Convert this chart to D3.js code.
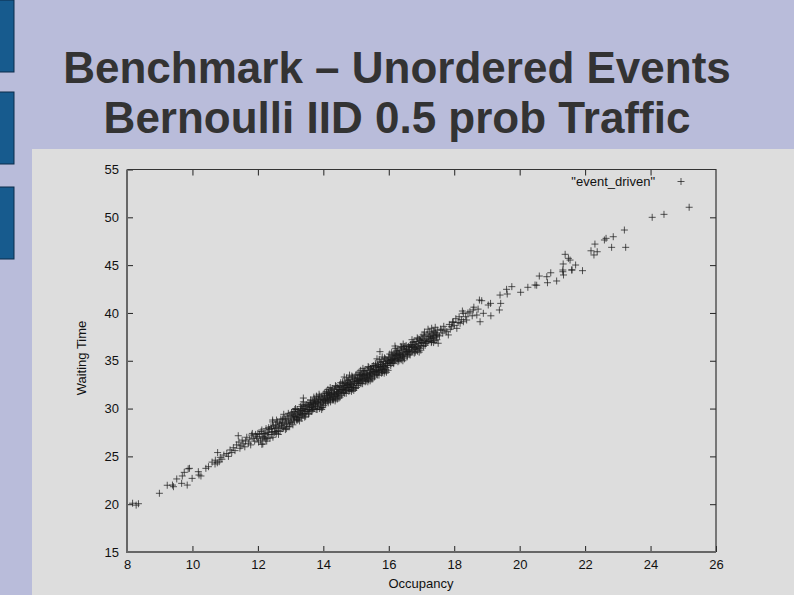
<!DOCTYPE html>
<html><head><meta charset="utf-8">
<script src="https://cdn.jsdelivr.net/npm/d3@7"></script>
<style>html,body{margin:0;padding:0;background:#b9bcda;}svg{display:block;}</style>
</head><body>
<script>
const titleLines = ["Benchmark – Unordered Events", "Bernoulli IID 0.5 prob Traffic"];
const xTicks = [8,10,12,14,16,18,20,22,24,26];
const yTicks = [15,20,25,30,35,40,45,50,55];
const xLabel = "Occupancy";
const yLabel = "Waiting Time";
const seriesName = "\"event_driven\"";

// sparse low end
const lowPoints = [[8.17,20.1],[8.28,19.9],[8.35,20.05],[8.99,21.14],[9.23,21.98],[9.42,21.83],[9.39,22.0],[9.52,22.64],
[9.69,22.95],[9.75,23.33],[9.67,22.18],[9.84,22.0],[9.91,23.75],[9.87,23.7],[9.99,22.7],[10.2,23.05],[10.18,23.4],
[10.26,22.95],[10.41,23.75],[10.49,23.92],[10.6,24.4],[10.69,24.2],[10.7,24.6],[10.76,24.33],[10.77,25.4],[10.82,24.44],
[10.85,24.9],[10.9,24.7],[10.96,25.14],[11.05,25.3],[11.1,25.0],[11.15,25.67],[11.2,25.4],[11.25,25.9],[11.3,25.6],
[11.35,26.2],[11.4,27.16],[11.42,26.5],[11.45,25.85],[11.48,26.1],[11.52,26.7],[11.55,26.3],[11.6,26.0],[11.62,26.6],
[11.66,27.0],[11.71,26.37],[11.75,26.8],[11.78,26.2],[11.81,27.23],[11.83,27.4],[11.86,26.9],[11.9,26.6],[11.93,27.3],
[11.96,27.06],[11.98,26.9],[12.0,27.4],[12.12,26.26],[12.12,27.76],[12.22,27.4],[12.42,27.93],[12.45,28.8]];

// dense band
const bandPoints = [
[12.02,26.5],[12.05,27.3],[12.08,26.7],[12.1,27.6],[12.13,26.9],[12.15,26.3],[12.18,27.4],[12.2,27.0],[12.23,26.8],[12.25,27.9],
[12.28,26.9],[12.3,27.5],[12.32,27.3],[12.35,27.8],[12.37,26.9],[12.4,28.1],[12.42,27.3],[12.44,27.6],[12.46,27.0],[12.48,28.2],
[12.5,27.5],[12.33,28.0],[12.16,27.1],[12.27,26.6],[12.45,28.6],
[12.52,27.9],[12.54,28.3],[12.56,27.4],[12.58,28.0],[12.6,28.6],[12.62,27.7],[12.64,28.1],[12.66,28.4],[12.68,27.6],[12.7,28.9],
[12.72,28.2],[12.74,27.9],[12.76,28.5],[12.78,28.0],[12.8,29.0],[12.82,28.3],[12.84,27.8],[12.86,28.7],[12.88,28.4],[12.9,29.2],
[12.92,28.1],[12.94,28.8],[12.96,28.5],[12.98,29.3],[13.0,28.6],[12.57,28.8],[12.63,27.3],[12.71,28.5],[12.79,29.4],[12.87,27.9],
[12.93,29.5],[12.55,27.6],[12.75,28.9],[12.85,28.9],[12.97,28.1],
[13.02,29.0],[13.04,28.5],[13.06,29.4],[13.08,28.9],[13.1,29.7],[13.12,28.7],[13.14,29.2],[13.16,29.5],[13.18,28.8],[13.2,29.9],
[13.22,29.3],[13.24,28.9],[13.26,29.6],[13.28,29.1],[13.3,30.2],[13.32,29.4],[13.34,29.0],[13.36,29.8],[13.38,29.3],[13.4,30.0],
[13.42,29.5],[13.44,29.9],[13.46,29.2],[13.48,30.4],[13.5,29.7],[13.03,29.6],[13.07,28.3],[13.11,29.2],[13.15,30.0],[13.19,29.1],
[13.23,29.7],[13.27,28.7],[13.31,29.8],[13.35,30.4],[13.39,30.7],[13.43,29.1],[13.47,29.7],[13.09,29.1],[13.13,29.9],[13.21,28.8],
[13.29,29.4],[13.33,30.0],[13.37,29.5],[13.41,30.3],[13.45,30.2],
[13.52,29.9],[13.54,30.3],[13.56,29.5],[13.58,30.1],[13.6,30.6],[13.62,29.8],[13.64,30.2],[13.66,30.8],[13.68,29.9],[13.7,30.4],
[13.72,30.0],[13.74,31.0],[13.76,30.3],[13.78,29.9],[13.8,30.7],[13.82,30.2],[13.84,31.1],[13.86,30.5],[13.88,30.0],[13.9,30.9],
[13.92,30.4],[13.94,31.2],[13.96,30.6],[13.98,30.1],[14.0,30.8],[13.53,30.6],[13.57,29.9],[13.61,30.9],[13.65,29.7],[13.69,30.6],
[13.73,30.8],[13.77,30.7],[13.81,29.9],[13.85,30.9],[13.89,31.3],[13.93,30.1],[13.97,31.0],[13.55,29.4],[13.59,30.4],[13.63,30.5],
[13.67,30.1],[13.71,31.2],[13.75,30.5],[13.79,31.3],[13.83,30.6],[13.87,31.5],[13.91,30.7],[13.95,29.9],[13.99,31.4],[13.39,31.1],
[14.02,30.9],[14.04,31.3],[14.06,30.5],[14.08,31.0],[14.1,31.6],[14.12,30.8],[14.14,31.2],[14.16,31.7],[14.18,30.9],[14.2,31.4],
[14.22,31.0],[14.24,31.9],[14.26,31.3],[14.28,30.9],[14.3,31.7],[14.32,31.2],[14.34,32.0],[14.36,31.5],[14.38,31.0],[14.4,31.8],
[14.42,31.4],[14.44,32.2],[14.46,31.6],[14.48,31.1],[14.5,31.9],[14.03,31.6],[14.07,30.7],[14.11,31.1],[14.15,30.6],[14.19,31.5],
[14.23,31.6],[14.27,32.1],[14.31,30.9],[14.35,31.3],[14.39,32.3],[14.43,31.0],[14.47,32.0],[14.05,30.9],[14.09,31.8],[14.13,31.4],
[14.17,31.1],[14.21,32.2],[14.25,31.5],[14.29,31.1],[14.33,31.6],[14.37,32.4],[14.41,31.5],[14.45,31.3],[14.49,32.4],[14.01,30.3],
[14.22,30.7],[14.36,30.8],[14.44,31.7],[14.14,32.0],
[14.52,31.8],[14.54,32.3],[14.56,31.4],[14.58,32.0],[14.6,32.6],[14.62,31.7],[14.64,32.2],[14.66,32.7],[14.68,31.9],[14.7,32.4],
[14.72,32.0],[14.74,32.9],[14.76,32.2],[14.78,31.8],[14.8,32.7],[14.82,32.3],[14.84,33.0],[14.86,32.5],[14.88,32.0],[14.9,32.8],
[14.92,32.4],[14.94,33.2],[14.96,32.6],[14.98,32.1],[15.0,32.9],[14.53,32.7],[14.57,31.6],[14.61,32.0],[14.65,31.6],[14.69,32.6],
[14.73,32.5],[14.77,33.0],[14.81,31.9],[14.85,32.2],[14.89,33.3],[14.93,31.9],[14.97,33.1],[14.55,32.0],[14.59,32.8],[14.63,32.4],
[14.67,32.1],[14.71,33.2],[14.75,32.5],[14.79,32.2],[14.83,32.6],[14.87,33.4],[14.91,32.2],[14.95,32.8],[14.99,33.5],[14.51,31.2],
[14.7,31.6],[14.86,31.8],[14.64,33.3],[14.8,33.5],
[15.02,32.8],[15.04,33.2],[15.06,32.4],[15.08,33.0],[15.1,33.5],[15.12,32.7],[15.14,33.1],[15.16,33.6],[15.18,32.9],[15.2,33.4],
[15.22,33.0],[15.24,33.9],[15.26,33.2],[15.28,32.8],[15.3,33.7],[15.32,33.3],[15.34,34.0],[15.36,33.5],[15.38,33.0],[15.4,33.8],
[15.42,33.4],[15.44,34.2],[15.46,33.6],[15.48,33.1],[15.5,33.9],[15.03,33.6],[15.07,32.6],[15.11,33.0],[15.15,32.6],[15.19,33.5],
[15.23,33.6],[15.27,34.0],[15.31,32.9],[15.35,33.2],[15.39,34.3],[15.43,32.9],[15.47,34.1],[15.05,32.9],[15.09,33.8],[15.13,33.4],
[15.17,33.1],[15.21,34.2],[15.25,33.5],[15.29,33.1],[15.33,33.6],[15.37,34.4],[15.41,33.5],[15.45,33.3],[15.49,34.4],[15.01,32.2],
[15.2,32.6],[15.36,32.8],[15.44,33.7],[15.14,34.0],
[15.52,33.7],[15.54,34.1],[15.56,33.3],[15.58,33.9],[15.6,34.5],[15.62,33.6],[15.64,34.0],[15.66,34.6],[15.68,33.8],[15.7,34.3],
[15.72,33.9],[15.74,34.8],[15.76,34.1],[15.78,33.7],[15.8,34.6],[15.82,34.2],[15.84,34.9],[15.86,34.4],[15.88,33.9],[15.9,34.7],
[15.92,34.3],[15.94,35.1],[15.96,34.5],[15.98,34.0],[16.0,34.8],[15.53,34.5],[15.57,33.5],[15.61,33.9],[15.65,33.5],[15.69,34.4],
[15.73,35.95],[15.77,34.9],[15.81,33.8],[15.85,34.1],[15.89,35.2],[15.93,33.8],[15.97,35.0],[15.55,33.8],[15.59,34.7],[15.63,34.3],
[15.67,34.0],[15.71,35.1],[15.75,34.4],[15.79,34.0],[15.83,34.5],[15.87,35.3],[15.91,34.1],[15.95,34.7],[15.99,35.4],[15.51,33.1],
[15.7,33.5],[15.86,33.7],[15.64,35.2],[15.8,35.4],
[16.02,34.9],[16.04,35.3],[16.06,34.5],[16.08,35.1],[16.1,35.6],[16.12,34.8],[16.14,35.2],[16.16,35.8],[16.18,35.0],[16.19,36.54],
[16.2,35.5],[16.22,35.1],[16.24,36.0],[16.26,35.3],[16.28,34.9],[16.3,35.8],[16.32,35.4],[16.34,36.1],[16.36,35.6],[16.38,35.1],
[16.4,35.9],[16.42,35.5],[16.44,36.75],[16.44,36.3],[16.46,35.7],[16.48,35.2],[16.5,36.0],[16.03,35.7],[16.07,34.7],[16.11,35.1],
[16.15,34.7],[16.19,35.6],[16.23,35.7],[16.27,36.1],[16.31,35.0],[16.35,35.3],[16.39,36.4],[16.43,35.0],[16.47,36.2],[16.05,35.0],
[16.09,35.9],[16.13,35.5],[16.17,35.2],[16.21,36.3],[16.25,35.6],[16.29,35.2],[16.33,35.7],[16.37,36.5],[16.41,35.6],[16.45,35.4],
[16.49,36.5],
[16.52,35.8],[16.54,36.2],[16.56,35.4],[16.58,36.0],[16.6,36.5],[16.62,35.7],[16.64,36.1],[16.66,36.7],[16.68,35.9],[16.7,36.4],
[16.72,36.0],[16.74,36.9],[16.76,36.2],[16.78,35.8],[16.8,36.7],[16.82,36.3],[16.84,37.0],[16.86,36.5],[16.88,36.0],[16.9,36.8],
[16.92,36.4],[16.94,37.2],[16.96,36.6],[16.98,36.1],[17.0,36.9],[16.53,36.6],[16.57,35.6],[16.61,36.0],[16.65,35.6],[16.69,36.5],
[16.73,36.6],[16.77,37.0],[16.81,35.9],[16.85,36.2],[16.89,37.3],[16.93,35.9],[16.97,37.1],[16.55,35.9],[16.63,36.4],[16.71,37.2],
[16.79,36.4],[16.87,37.4],[16.95,36.3],[16.99,37.5],
[17.02,36.9],[17.04,37.3],[17.06,36.5],[17.08,37.1],[17.1,37.6],[17.12,36.8],[17.14,37.2],[17.17,37.8],[17.19,37.0],[17.21,37.5],
[17.23,37.1],[17.25,38.0],[17.27,37.3],[17.3,36.9],[17.32,37.8],[17.34,37.4],[17.36,38.1],[17.38,37.6],[17.41,37.1],[17.43,37.9],
[17.45,37.5],[17.48,38.2],[17.5,37.7],[17.05,37.7],[17.11,36.6],[17.15,37.0],[17.2,38.3],[17.26,37.5],[17.31,38.4],[17.37,36.9],
[17.42,38.5],[17.47,37.2],[17.09,38.0],[17.29,37.6],[17.39,38.0]];

// sparse high end
const highPoints = [[17.31,37.0],[17.36,37.35],[17.46,37.7],[17.51,36.83],[17.55,37.6],[17.58,38.3],[17.62,38.2],[17.65,37.9],
[17.68,38.6],[17.72,38.2],[17.77,38.04],[17.82,37.7],[17.85,38.8],[17.88,38.3],[17.92,38.56],[17.95,39.0],[17.97,39.08],
[18.0,38.7],[18.05,39.4],[18.08,38.39],[18.12,39.0],[18.15,39.6],[18.18,38.92],[18.22,39.3],[18.25,40.2],[18.28,39.96],
[18.28,39.08],[18.35,39.6],[18.38,39.26],[18.42,40.0],[18.48,40.13],[18.55,39.7],[18.58,40.31],[18.6,40.6],[18.69,39.78],
[18.73,40.4],[18.77,41.35],[18.79,39.08],[18.84,41.28],[18.89,39.96],[19.04,40.83],[19.11,41.0],[19.12,39.7],[19.38,40.31],
[19.42,41.0],[19.4,41.87],[19.6,42.47],[19.62,41.98],[19.76,42.75],[20.03,42.16],[20.25,42.68],[20.47,42.92],[20.52,42.9],
[20.6,43.86],[20.83,43.79],[20.85,43.16],[20.95,44.2],[21.13,43.34],[21.32,44.31],[21.34,43.97],[21.32,44.49],[21.33,45.12],
[21.39,46.13],[21.49,45.71],[21.54,45.53],[21.59,44.49],[21.6,44.5],[21.71,45.01],[21.92,44.42],[22.18,46.5],[22.27,46.06],
[22.3,47.2],[22.37,46.4],[22.59,47.63],[22.64,47.8],[22.81,46.86],[22.86,47.97],[23.2,48.67],[23.24,46.86],[24.05,50.0],
[24.41,50.31],[25.18,51.05]];

const W = 794, H = 595;
const svg = d3.select("body").append("svg").attr("width", W).attr("height", H)
  .style("font-family", "'Liberation Sans', Arial, sans-serif");

svg.append("rect").attr("width", W).attr("height", H).attr("fill", "#b9bcda");

// left blue bars
const bars = [[0,72],[92,164],[187,259]];
svg.selectAll("rect.bar").data(bars).join("rect").attr("class","bar")
  .attr("x", -1).attr("y", d => d[0]).attr("width", 15).attr("height", d => d[1]-d[0])
  .attr("fill", "#175b8e").attr("stroke", "#0c2d4a").attr("stroke-width", 1);

// title
svg.selectAll("text.title").data(titleLines).join("text").attr("class","title")
  .attr("x", 397).attr("y", (d,i) => 83 + i*50)
  .attr("text-anchor", "middle").attr("font-size", 44).attr("font-weight", "bold")
  .attr("fill", "#333333").text(d => d);

// gray panel
svg.append("rect").attr("x", 32).attr("y", 149).attr("width", W-32).attr("height", H-149).attr("fill", "#dddddd");

const x = d3.scaleLinear().domain([8,26]).range([127,716]);
const y = d3.scaleLinear().domain([15,55]).range([552,169.5]);

const fmt = d3.format("d");
const gx = svg.append("g").attr("transform", `translate(0,${y(15)})`)
  .call(d3.axisBottom(x).tickValues(xTicks).tickFormat(fmt).tickSizeInner(-6).tickSizeOuter(0).tickPadding(8));
const gy = svg.append("g").attr("transform", `translate(${x(8)},0)`)
  .call(d3.axisLeft(y).tickValues(yTicks).tickFormat(fmt).tickSizeInner(-6).tickSizeOuter(0).tickPadding(8));
const gt = svg.append("g").attr("transform", `translate(0,${y(55)})`)
  .call(d3.axisTop(x).tickValues(xTicks.slice(1,-1)).tickFormat("").tickSizeInner(-6).tickSizeOuter(0));
const gr = svg.append("g").attr("transform", `translate(${x(26)},0)`)
  .call(d3.axisRight(y).tickValues(yTicks.slice(1,-1)).tickFormat("").tickSizeInner(-6).tickSizeOuter(0));
[gx,gy,gt,gr].forEach(g => {
  g.select(".domain").remove();
  g.selectAll(".tick line").attr("stroke", "#222").attr("stroke-width", 1);
  g.selectAll(".tick text").attr("fill", "#111").attr("font-size", 13)
    .attr("font-family", "'Liberation Sans', Arial, sans-serif");
});

// frame
svg.append("path").attr("fill","none").attr("stroke","#333").attr("stroke-width",1.2)
  .attr("d", `M${x(8)},${y(55)}H${x(26)}V${y(15)}`);
svg.append("path").attr("fill","none").attr("stroke","#666").attr("stroke-width",2)
  .attr("d", `M${x(8)},${y(55)}V${y(15)}H${x(26)}`);

// points
const allPts = lowPoints.concat(bandPoints, highPoints);
const s = 3.5;
svg.append("g").selectAll("path").data(allPts).join("path")
  .attr("d", d => `M${x(d[0])-s},${y(d[1])}h${2*s}M${x(d[0])},${y(d[1])-s}v${2*s}`)
  .attr("stroke", "#1a1a1a").attr("stroke-opacity", 0.72).attr("stroke-width", 1).attr("fill", "none");

// legend
svg.append("text").attr("x", 655).attr("y", 186).attr("text-anchor","end")
  .attr("font-size", 13).attr("fill", "#111").text(seriesName);
const lx = 681, ly = 181.5;
svg.append("path").attr("d", `M${lx-s},${ly}h${2*s}M${lx},${ly-s}v${2*s}`)
  .attr("stroke", "#1a1a1a").attr("stroke-opacity", 0.72).attr("stroke-width", 1);

// axis titles
svg.append("text").attr("x", 421).attr("y", 588).attr("text-anchor","middle")
  .attr("font-size", 13).attr("fill", "#111").text(xLabel);
svg.append("text").attr("transform", "translate(86,358) rotate(-90)").attr("text-anchor","middle")
  .attr("font-size", 13).attr("fill", "#111").text(yLabel);
</script>
</body></html>
